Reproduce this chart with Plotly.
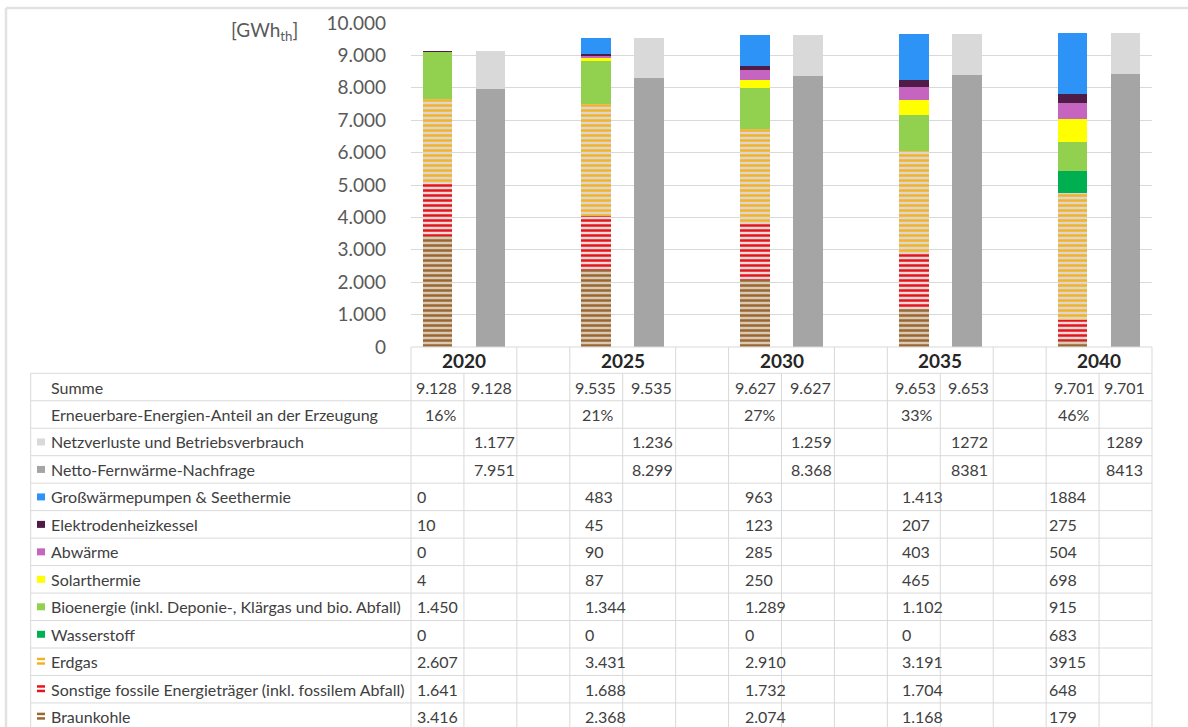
import plotly.graph_objects as go

# ---------------- data ----------------
years = ["2020", "2025", "2030", "2035", "2040"]
summe = ["9.128", "9.535", "9.627", "9.653", "9.701"]
ee_anteil = ["16%", "21%", "27%", "33%", "46%"]
netzverluste = ["1.177", "1.236", "1.259", "1272", "1289"]
netto_nachfrage = ["7.951", "8.299", "8.368", "8381", "8413"]
grosswaermepumpen = ["0", "483", "963", "1.413", "1884"]
elektrodenkessel = ["10", "45", "123", "207", "275"]
abwaerme = ["0", "90", "285", "403", "504"]
solarthermie = ["4", "87", "250", "465", "698"]
bioenergie = ["1.450", "1.344", "1.289", "1.102", "915"]
wasserstoff = ["0", "0", "0", "0", "683"]
erdgas = ["2.607", "3.431", "2.910", "3.191", "3915"]
sonstige_fossil = ["1.641", "1.688", "1.732", "1.704", "648"]
braunkohle = ["3.416", "2.368", "2.074", "1.168", "179"]

row_labels = [
    "Summe",
    "Erneuerbare-Energien-Anteil an der Erzeugung",
    "Netzverluste und Betriebsverbrauch",
    "Netto-Fernwärme-Nachfrage",
    "Großwärmepumpen & Seethermie",
    "Elektrodenheizkessel",
    "Abwärme",
    "Solarthermie",
    "Bioenergie (inkl. Deponie-, Klärgas und bio. Abfall)",
    "Wasserstoff",
    "Erdgas",
    "Sonstige fossile Energieträger (inkl. fossilem Abfall)",
    "Braunkohle",
]


def num(lst):
    return [int(s.replace(".", "")) for s in lst]


# ---------------- styles ----------------
FONT = "Lato"
TXT = "#404040"
GRID = "#D9D9D9"

# series: (label index, values, color, stripe background)
prod_series = [  # bottom -> top
    (12, braunkohle, "#9A6632", "#D9CAB6"),
    (11, sonstige_fossil, "#E8141B", "#E6DADA"),
    (10, erdgas, "#F2B32A", "#DCD6CC"),
    (9, wasserstoff, "#00B050", None),
    (8, bioenergie, "#92D050", None),
    (7, solarthermie, "#FFFF00", None),
    (6, abwaerme, "#C565C0", None),
    (5, elektrodenkessel, "#4E1C47", None),
    (4, grosswaermepumpen, "#2E93F7", None),
]
dem_series = [
    (3, netto_nachfrage, "#A5A5A5", None),
    (2, netzverluste, "#D9D9D9", None),
]

prod_x = [3 * i for i in range(len(years))]
dem_x = [3 * i + 1 for i in range(len(years))]

fig = go.Figure()
for xs, series in ((prod_x, prod_series), (dem_x, dem_series)):
    for idx, vals, col, bg in series:
        marker = dict(color=col, line=dict(width=0))
        if bg:
            marker["color"] = bg
            marker["pattern"] = dict(shape="-", fgcolor=col, bgcolor=bg,
                                     fgopacity=1, size=5, solidity=0.5,
                                     fillmode="replace")
        fig.add_trace(go.Bar(x=xs, y=num(vals), width=0.56, marker=marker,
                             name=row_labels[idx], showlegend=False,
                             hoverinfo="skip"))

# ---------------- layout geometry ----------------
W, H = 1188, 727
L, R, T, B = 411, 1152, 23, 347
PW, PH = R - L, B - T


def X(px):
    return (px - L) / PW


def Y(py):
    return (B - py) / PH


ncol = 14
colw = PW / ncol
col_edges = [L + c * colw for c in range(ncol + 1)]
row_top = 373.3
row_h = 27.47
tab_left = 30.7

shapes = []


def line(x0, y0, x1, y1, color=GRID, w=1):
    shapes.append(dict(type="line", xref="paper", yref="paper",
                       x0=X(x0), y0=Y(y0), x1=X(x1), y1=Y(y1),
                       line=dict(color=color, width=w)))


def rect(x0, y0, x1, y1, color):
    shapes.append(dict(type="rect", xref="paper", yref="paper",
                       x0=X(x0), y0=Y(y0), x1=X(x1), y1=Y(y1),
                       line=dict(width=0), fillcolor=color))


# outer frame
line(6, 8, 6, H + 5, "#E2E2E2", 2.5)
line(6, 8, W + 5, 8, "#E2E2E2", 2.5)

# axis / header line
line(L, B, R, B)
# header row verticals (year header spans two columns)
for c in (0, 2, 3, 5, 6, 8, 9, 11, 12, 14):
    line(col_edges[c], B, col_edges[c], row_top)
# table body
nrows = len(row_labels)
bottom = row_top + nrows * row_h
for k in range(nrows + 1):
    yy = row_top + k * row_h
    line(tab_left, yy, R, yy)
for xx in [tab_left] + col_edges:
    line(xx, row_top, xx, bottom)

annotations = []


def text(px, py, s, size=16, anchor="left", color=TXT):
    annotations.append(dict(xref="paper", yref="paper", x=X(px), y=Y(py),
                            text=s, showarrow=False, xanchor=anchor,
                            yanchor="middle",
                            font=dict(family=FONT, size=size, color=color)))


# unit label
text(264, 31, "[GWh<sub>th</sub>]", size=19, anchor="center",
     color="#595959")

# year headers
for i, yr in enumerate(years):
    annotations.append(dict(xref="x", yref="paper", x=prod_x[i] + 0.5,
                            y=Y(360.5), text="<b>" + yr + "</b>",
                            showarrow=False, xanchor="center",
                            yanchor="middle",
                            font=dict(family=FONT, size=19, color="#262626")))

# key colours per row
key_color = {idx: (col, bg) for idx, vals, col, bg in prod_series + dem_series}

row_values = {
    0: (summe, summe),
    1: (ee_anteil, None),
    2: (None, netzverluste),
    3: (None, netto_nachfrage),
}
for idx, vals, col, bg in prod_series:
    row_values[idx] = (vals, None)

pad_c1 = {0: [3, 3, 4, 6, 6], 1: [12, 10, 13, 12, 10]}
pad_c1_default = [4, 13, 14, 13, 1]
pad_c2 = {0: [5, 6, 6, 6, 3]}
pad_c2_default = [8, 7, 7, 9, 5]

for r, lab in enumerate(row_labels):
    cy = row_top + (r + 0.5) * row_h
    text(49, cy, lab)
    if r in key_color:
        col, bg = key_color[r]
        if bg:
            rect(37, cy - 4, 45, cy - 1.5, col)
            rect(37, cy + 0.5, 45, cy + 3, col)
        else:
            rect(37, cy - 3.5, 45, cy + 3.5, col)
    c1, c2 = row_values[r]
    for i in range(len(years)):
        if c1 is not None:
            p = pad_c1.get(r, pad_c1_default)[i]
            text(col_edges[3 * i] + p, cy, c1[i])
        if c2 is not None:
            p = pad_c2.get(r, pad_c2_default)[i]
            text(col_edges[3 * i + 1] + p, cy, c2[i])

fig.update_layout(
    width=W, height=H,
    margin=dict(l=L, r=W - R, t=T, b=H - B, pad=0),
    barmode="stack",
    bargap=0,
    plot_bgcolor="white", paper_bgcolor="white",
    separators=",.",
    font=dict(family=FONT, color="#595959"),
    xaxis=dict(range=[-0.5, 13.5], showticklabels=False, showgrid=False,
               zeroline=False, showline=False, fixedrange=True),
    yaxis=dict(range=[0, 10000], tickvals=list(range(0, 10001, 1000)),
               tickformat=",d", showgrid=True, gridcolor=GRID, gridwidth=1,
               zeroline=False, showline=False, ticks="",
               ticklabelstandoff=24,
               tickfont=dict(family=FONT, size=19, color="#595959"),
               fixedrange=True),
    shapes=shapes,
    annotations=annotations,
)

fig.write_html("out.html")
